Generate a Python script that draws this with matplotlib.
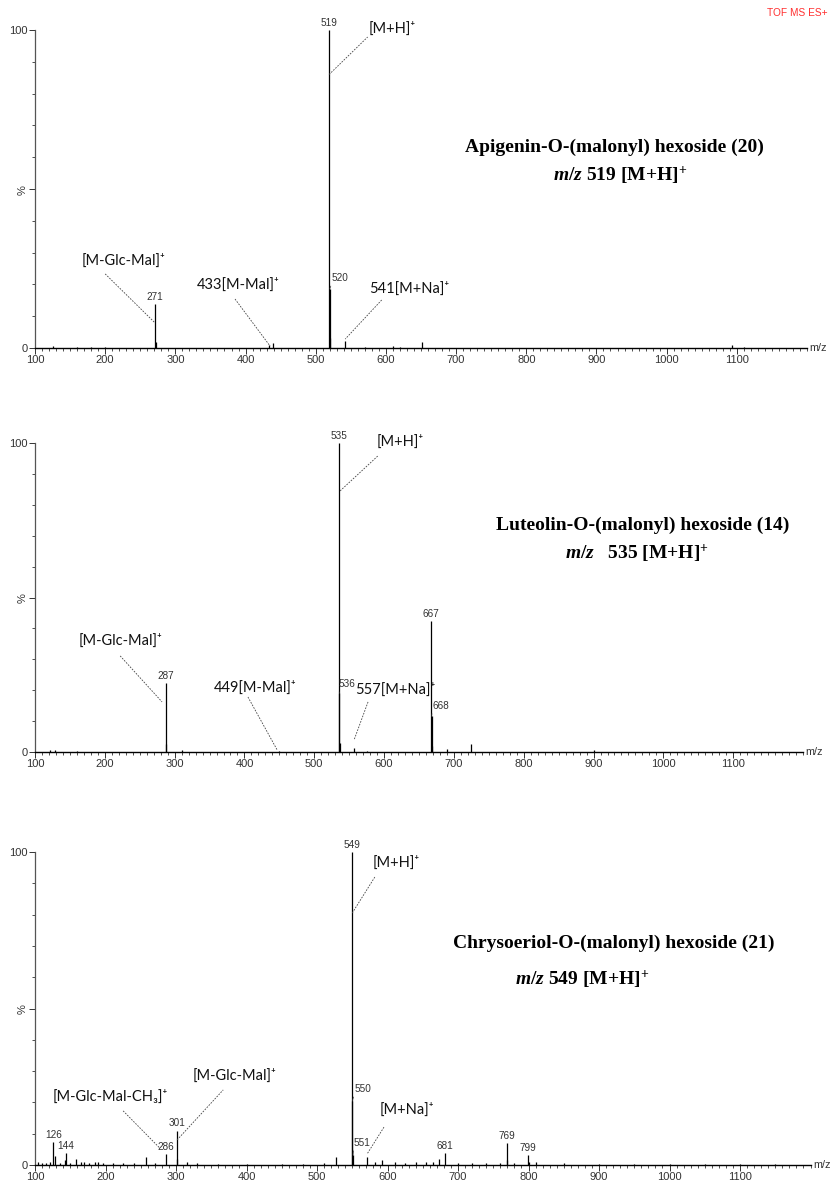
# -*- coding: utf-8 -*-
import numpy as np
import matplotlib
matplotlib.use('Agg')
import matplotlib.pyplot as plt
from matplotlib.ticker import MultipleLocator

plt.rcParams['mathtext.fontset'] = 'custom'
plt.rcParams['mathtext.rm'] = 'Liberation Serif:bold'
plt.rcParams['mathtext.it'] = 'Liberation Serif:italic:bold'

### peak lists (m/z, relative intensity %)
api_mz = [125, 160, 180, 200, 271, 272, 433, 439, 519, 520, 521, 541,
          570, 610, 620, 652, 1093, 1110]
api_int = [0.5, 0.4, 0.3, 0.3, 13.8, 1.8, 0.8, 1.5, 100, 18.6, 3.0, 2.2,
           0.4, 0.5, 0.4, 2.0, 1.0, 0.4]

lut_mz = [122, 128, 160, 287, 288, 310, 449, 535, 536, 537, 557, 575,
          667, 668, 669, 690, 725, 900]
lut_int = [0.8, 0.5, 0.4, 22.3, 2.5, 0.5, 0.3, 100, 19.0, 3.0, 1.2, 0.4,
           42.5, 11.5, 2.0, 1.0, 2.6, 0.5]

chr_mz = [104, 110, 115, 121, 126, 128, 136, 142, 144, 150, 158, 165, 170,
          176, 185, 190, 196, 210, 225, 240, 258, 270, 286, 301, 302, 315,
          330, 360, 400, 450, 480, 510, 527, 549, 550, 551, 571, 582, 592,
          610, 625, 640, 655, 665, 673, 681, 700, 720, 740, 760, 769, 770,
          780, 799, 800, 810, 850, 900, 950, 1000, 1050, 1100, 1150]
chr_int = [0.8, 0.6, 0.7, 0.8, 7.3, 3.0, 0.6, 1.5, 3.8, 0.7, 2.0, 1.0, 1.1,
           0.6, 1.0, 1.0, 0.6, 0.5, 0.5, 0.5, 2.5, 0.5, 3.5, 11.0, 2.0, 1.0,
           0.5, 0.4, 0.4, 0.4, 0.4, 0.5, 2.5, 100, 20.4, 3.2, 2.5, 0.8, 1.5,
           0.8, 0.7, 1.0, 0.8, 0.8, 2.0, 3.8, 0.7, 0.6, 0.6, 0.6, 7.0, 1.5,
           0.6, 3.2, 1.0, 0.8, 0.5, 0.4, 0.4, 0.4, 0.4, 0.4, 0.3]

### labelled peaks: (m/z, offset) ; offset None -> centred above
api_labels = [(519, None), (520, (1.5, 4)), (271, None)]
lut_labels = [(535, None), (536, (-0.5, 3)), (287, None), (667, None), (668, (0.5, 4))]
chr_labels = [(549, None), (550, (1.5, 5)), (551, (0.5, 5)), (301, None),
              (286, None), (126, None), (144, None), (681, None),
              (769, None), (799, None)]

SP = u'\u207a'
ANN_FONT = ['Lato', 'DejaVu Sans']
TICK_FONT = 'Liberation Sans'
GREY = '#333333'

def set_axis(ax, xmax=1200):
    ax.set_xlim(100, xmax)
    ax.set_ylim(0, 100)
    for s in ['top', 'right']:
        ax.spines[s].set_visible(False)
    ax.spines['left'].set_color('#555555')
    ax.spines['left'].set_linewidth(0.9)
    ax.spines['bottom'].set_linewidth(1.0)
    ax.xaxis.set_minor_locator(MultipleLocator(10))
    ax.set_xticks(np.arange(100, 1200, 100))
    ax.yaxis.set_minor_locator(MultipleLocator(10))
    ax.set_yticks([0, 50, 100])
    ax.set_yticklabels(['0', '%', '100'])
    ax.get_yticklabels()[1].set_rotation(90)
    ax.tick_params(axis='both', which='major', direction='out', length=4,
                   width=0.7, labelsize=8, pad=1, colors=GREY)
    ax.tick_params(axis='both', which='minor', direction='out', length=2.2,
                   width=0.6, colors=GREY)
    for t in ax.get_xticklabels() + ax.get_yticklabels():
        t.set_fontfamily(TICK_FONT)
    ax.text(1.003, 0.0, 'm/z', transform=ax.transAxes, ha='left', va='center',
            fontsize=7.8, color=GREY, family=TICK_FONT)

def plot_peaks(ax, mz, inten, labels):
    ax.vlines(mz, 0, inten, color='black', lw=0.9)
    lookup = dict(zip(mz, inten))
    for m, off in labels:
        if off is None:
            ax.annotate(str(m), xy=(m, lookup[m]), xytext=(0, 1.5),
                        textcoords='offset points', ha='center', va='bottom',
                        fontsize=7.2, color=GREY, family=TICK_FONT)
        else:
            ax.annotate(str(m), xy=(m, lookup[m]), xytext=off,
                        textcoords='offset points', ha='left', va='bottom',
                        fontsize=7.2, color=GREY, family=TICK_FONT,
                        arrowprops=dict(arrowstyle='-', lw=0.5, color=GREY,
                                        shrinkA=0, shrinkB=0, relpos=(0, 0)))

def label_ion(ax, text, pos, p0, p1):
    ax.text(pos[0], pos[1], text, ha='left', va='center', fontsize=10.5,
            family=ANN_FONT, color='#111111')
    ax.plot([p0[0], p1[0]], [p0[1], p1[1]], ls=(0, (2, 1.5)), lw=0.6,
            color='#444444', clip_on=False)

def title(ax, line1, line2, pos1, pos2):
    ax.text(pos1[0], pos1[1], line1, ha='center', va='center', fontsize=14,
            family='Liberation Serif', weight='bold')
    ax.text(pos2[0], pos2[1], line2, ha='center', va='center', fontsize=14,
            family='Liberation Serif', weight='bold')

W, H = 831., 1182.
fig = plt.figure(figsize=(W/100, H/100), dpi=100)

ax1 = fig.add_axes([35/W, 1-348/H, 772/W, 318/H])
ax2 = fig.add_axes([35/W, 1-752/H, 768/W, 309/H])
ax3 = fig.add_axes([35/W, 1-1165/H, 775.5/W, 313/H])

### Apigenin
plot_peaks(ax1, api_mz, api_int, api_labels)
set_axis(ax1)
label_ion(ax1, '[M+H]' + SP, (576, 100.3), (519, 86), (574, 97.8))
label_ion(ax1, '[M-Glc-Mal]' + SP, (167, 27.4), (200, 23.3), (271, 7.9))
label_ion(ax1, '433[M-Mal]' + SP, (331, 19.8), (385, 15.4), (435, 0.6))
label_ion(ax1, '541[M+Na]' + SP, (576, 18.6), (594, 15.1), (542, 2.8))
title(ax1, 'Apigenin-O-(malonyl) hexoside (20)', r'$m/z$ 519 [M+H]$^{+}$',
      (926, 63.2), (933, 54.4))
fig.text(828/W, 1-13/H, 'TOF MS ES+', ha='right', va='center', fontsize=7.3,
         color='#ff3030', family=TICK_FONT)

### Luteolin
plot_peaks(ax2, lut_mz, lut_int, lut_labels)
set_axis(ax2)
label_ion(ax2, '[M+H]' + SP, (590, 100.3), (537, 84.5), (591, 95.8))
label_ion(ax2, '[M-Glc-Mal]' + SP, (162, 35.9), (222, 31.1), (282, 16.2))
label_ion(ax2, '449[M-Mal]' + SP, (356, 20.7), (405, 17.8), (447, 0.6))
label_ion(ax2, '557[M+Na]' + SP, (558.5, 20.2), (577, 16.2), (557, 3.9))
title(ax2, 'Luteolin-O-(malonyl) hexoside (14)', r'$m/z$   535 [M+H]$^{+}$',
      (971, 73.5), (962, 64.4))

### Chrysoeriol
plot_peaks(ax3, chr_mz, chr_int, chr_labels)
set_axis(ax3)
label_ion(ax3, '[M+H]' + SP, (579, 96.5), (550, 80.5), (582, 92))
label_ion(ax3, '[M-Glc-Mal]' + SP, (324, 28.4), (301.5, 8), (367, 24))
label_ion(ax3, '[M-Glc-Mal-CH' + u'\u2083' + ']' + SP, (125, 21.7), (225, 17.3), (277, 5.4))
label_ion(ax3, '[M+Na]' + SP, (589, 17.6), (595, 12.1), (571, 3.5))
title(ax3, 'Chrysoeriol-O-(malonyl) hexoside (21)', r'$m/z$ 549 [M+H]$^{+}$',
      (921, 70.9), (876, 59.4))

fig.savefig('out.png', dpi=100)
print(" Output out.png")
